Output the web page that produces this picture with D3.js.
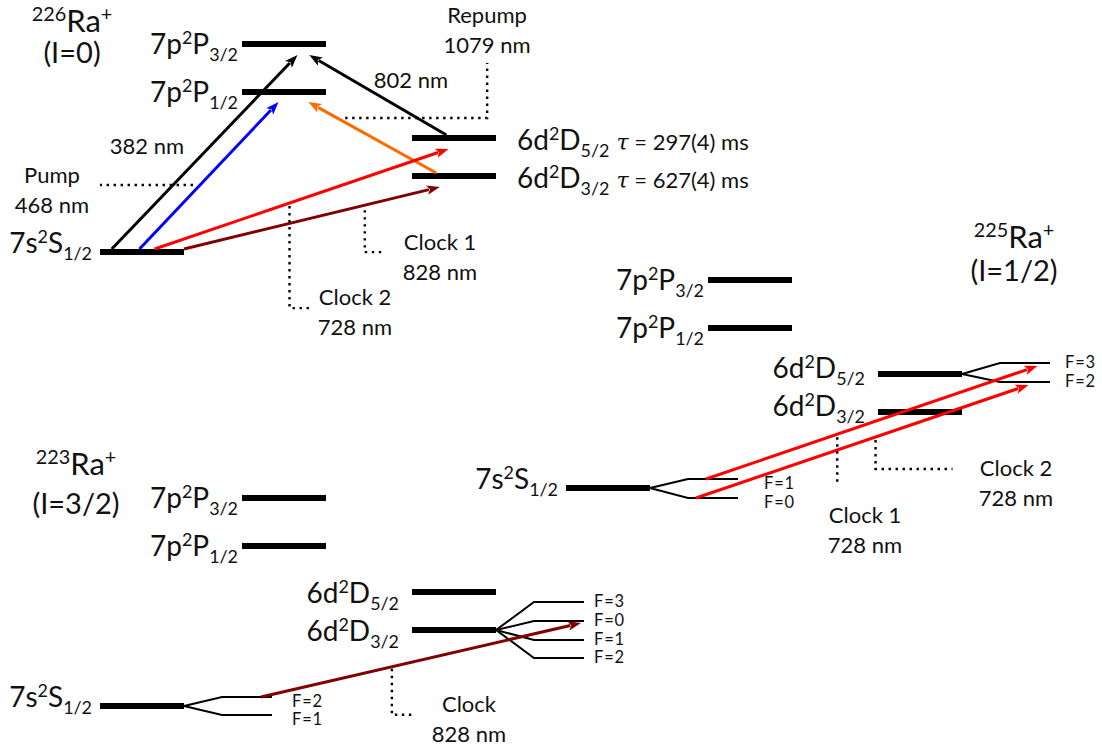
<!DOCTYPE html>
<html>
<head>
  <script src="https://d3js.org/d3.v7.min.js"></script>
  <style>
    body { margin: 0; background: #fff; }
    text { font-family: Lato, "Open Sans", sans-serif; fill: #111; }
    .bar { stroke: #000; stroke-width: 6; }
    .hf { fill: none; stroke: #000; stroke-width: 2; }
    .hf-label { font-size: 16.5px; letter-spacing: 0.8px; }
    .leader { fill: none; stroke: #000; stroke-width: 2.4; stroke-dasharray: 2.4,4.6; }
  </style>
</head>
<body>
  <div id="chart"></div>

  <script>
    // fine-structure levels, schematic energies (diagram is not to scale)
    var levelNames = ["7s2S1/2", "6d2D3/2", "6d2D5/2", "7p2P1/2", "7p2P3/2"];
    var levelConfig = ["7s", "6d", "6d", "7p", "7p"];
    var levelTerm = ["S", "D", "D", "P", "P"];
    var levelJ = ["1/2", "3/2", "5/2", "1/2", "3/2"];
    var levelEnergy = [0, 76, 114, 160, 208];

    var isotopes = ["226", "225", "223"];
    var nuclearSpin = ["0", "1/2", "3/2"];

    // lifetimes of the metastable D states of 226Ra+
    var lifetimeLevel = ["6d2D5/2", "6d2D3/2"];
    var lifetimeMs = ["297(4)", "627(4)"];

    // hyperfine sublevels (schematic shift)
    var hfIsotope = ["225", "225", "225", "225", "223", "223", "223", "223", "223", "223"];
    var hfLevel = ["7s2S1/2", "7s2S1/2", "6d2D5/2", "6d2D5/2", "7s2S1/2", "7s2S1/2", "6d2D3/2", "6d2D3/2", "6d2D3/2", "6d2D3/2"];
    var hfF = ["1", "0", "3", "2", "2", "1", "3", "0", "1", "2"];
    var hfShift = [9, -10, 11, -8, 9, -9, 28, 9, -10, -28];

    // laser transitions
    var trIsotope = ["226", "226", "226", "226", "226", "226", "225", "225", "223"];
    var trFrom = ["7s2S1/2", "7s2S1/2", "6d2D5/2", "6d2D3/2", "7s2S1/2", "7s2S1/2", "7s2S1/2", "7s2S1/2", "7s2S1/2"];
    var trFromF = [null, null, null, null, null, null, "1", "0", "2"];
    var trTo = ["7p2P3/2", "7p2P1/2", "7p2P3/2", "7p2P1/2", "6d2D5/2", "6d2D3/2", "6d2D5/2", "6d2D5/2", "6d2D3/2"];
    var trToF = [null, null, null, null, null, null, "3", "2", "0"];
    var trNm = [382, 468, 802, 1079, 728, 828, 728, 728, 828];

    // annotations
    var noteTitle = ["Pump", "Repump", "Clock 2", "Clock 1", "Clock 1", "Clock 2", "Clock"];
    var noteArrow = [1, 3, 4, 5, 6, 7, 8];
    var plainLabelArrow = [0, 2];

    // ---------- layout ----------
    var width = 1102, height = 751;
    var barW = 84, fanW = 38, hfW = 50;

    var panels = {
      "226": { x: 100, y: 252, dSide: "right", dDy: 12, name: [72, 32, 31] },
      "225": { x: 566, y: 488, dSide: "left", dDy: 4, name: [1014, 248, 33] },
      "223": { x: 100, y: 706, dSide: "left", dDy: 11, name: [76, 475, 39] }
    };
    var colX = d3.scaleOrdinal().domain(["7s", "7p", "6d"]).range([0, 142, 312]);
    var labelGap = { "7s": 8, "7p": 4, "6d": 13 };
    var labelDy = { "7s": 1, "7p": 10 };

    // hyperfine label offsets [dx from line end, dy]
    var hfLabelPos = {
      "225 7s2S1/2": [26, 10], "225 6d2D5/2": [15, 5],
      "223 7s2S1/2": [20, 10], "223 6d2D3/2": [10, 5]
    };

    // arrow anchors: fraction along start line, fraction along end line, gap below target
    var arrowPos = [
      [0.14, 0.66, 11], [0.47, 0.435, 10], [0.41, 0.80, 11], [0.29, 0.79, 10],
      [0.65, 0.435, 11], [1.0, 0.33, 11], [0.36, 0.75, 3], [0.16, 0.57, 3], [0.78, 0.94, 2]
    ];
    // leaders: t along arrow, offset, path moves, text centre and first baseline
    var notePos = [
      { t: 0.435, d: [-7, 0], path: [["h", -93]], text: [52, 183] },
      { t: 0.775, d: [8, 0], path: [["h", 142], ["v", -55]], text: [487, 23] },
      { t: 0.459, d: [0, 3], path: [["v", 102], ["h", 20]], text: [355, 305] },
      { t: 0.707, d: [0, 5], path: [["v", 42], ["h", 20]], text: [440, 250] },
      { t: 0.396, d: [0, 3], path: [["v", 48]], text: [865, 523] },
      { t: 0.54, d: [0, 3], path: [["v", 29], ["h", 77]], text: [1016, 476] },
      { t: 0.409, d: [0, 2], path: [["v", 46], ["h", 21]], text: [469, 712] }
    ];
    var plainLabelPos = [[147, 154], [411, 88]];

    var color = d3.scaleOrdinal()
      .domain([382, 468, 802, 1079, 728, 828])
      .range(["#000000", "#0000ff", "#000000", "#ff6a00", "#ff0000", "#800000"]);

    var svg = d3.select("#chart").append("svg")
      .attr("width", width).attr("height", height);

    var yScale = {};
    isotopes.forEach(function(iso) {
      var p = panels[iso];
      yScale[iso] = d3.scaleLinear().domain([0, 208]).range([p.y, p.y - 208]);
    });

    function lvl(name) { return levelNames.indexOf(name); }
    function barLeft(iso, name) { return panels[iso].x + colX(levelConfig[lvl(name)]); }
    function barY(iso, name) { return yScale[iso](levelEnergy[lvl(name)]); }
    function hfLine(iso, name, F) {
      for (var i = 0; i < hfF.length; i++) {
        if (hfIsotope[i] === iso && hfLevel[i] === name && hfF[i] === F) {
          var x0 = barLeft(iso, name) + barW + fanW;
          return { x0: x0, x1: x0 + hfW, y: yScale[iso](levelEnergy[lvl(name)] + hfShift[i]) };
        }
      }
    }

    // text with super/subscripts; part = [text, "sup"|"sub"|null, dx, family, size]
    function richText(sel, x, y, parts, anchor, size) {
      var t = sel.append("text").attr("x", x).attr("y", y)
        .attr("text-anchor", anchor).style("font-size", size + "px");
      var shift = 0;
      parts.forEach(function(p) {
        var target = p[1] === "sup" ? -0.36 * size : p[1] === "sub" ? 0.25 * size : 0;
        var ts = t.append("tspan").attr("dy", target - shift).text(p[0]);
        if (p[1] === "sup" || p[1] === "sub") ts.style("font-size", (0.64 * size) + "px");
        if (p[2]) ts.attr("dx", p[2]);
        if (p[3]) ts.style("font-family", p[3]).style("font-style", "italic");
        if (p[4]) ts.style("font-size", p[4] + "px");
        shift = target;
      });
      return t;
    }

    // ---------- levels ----------
    isotopes.forEach(function(iso, k) {
      var g = svg.append("g");
      var p = panels[iso];

      g.selectAll(".bar").data(levelNames).enter().append("line")
        .attr("class", "bar")
        .attr("x1", function(d) { return barLeft(iso, d); })
        .attr("x2", function(d) { return barLeft(iso, d) + barW; })
        .attr("y1", function(d) { return barY(iso, d); })
        .attr("y2", function(d) { return barY(iso, d); });

      levelNames.forEach(function(d, i) {
        var cfg = levelConfig[i];
        var right = cfg === "6d" && p.dSide === "right";
        var x = right ? barLeft(iso, d) + barW + 21 : barLeft(iso, d) - labelGap[cfg];
        var dy = cfg === "6d" ? p.dDy : labelDy[cfg];
        var parts = [[cfg], ["2", "sup"], [levelTerm[i]], [levelJ[i], "sub"]];
        var li = lifetimeLevel.indexOf(d);
        if (iso === "226" && li >= 0) {
          parts.push(["\u03c4", null, 7, "DejaVu Serif", 22]);
          parts.push([" = " + lifetimeMs[li] + " ms", null, null, null, 22]);
        }
        richText(g, x, barY(iso, d) + dy, parts, right ? "start" : "end", 28);
      });

      // isotope name
      richText(g, p.name[0], p.name[1], [[iso, "sup"], ["Ra"], ["+", "sup"]], "middle", 31);
      g.append("text").attr("x", p.name[0]).attr("y", p.name[1] + p.name[2])
        .attr("text-anchor", "middle").style("font-size", "29px")
        .text("(I=" + nuclearSpin[k] + ")");
    });

    // ---------- hyperfine fans ----------
    hfF.forEach(function(F, i) {
      var iso = hfIsotope[i], name = hfLevel[i];
      var h = hfLine(iso, name, F);
      var xb = barLeft(iso, name) + barW, yb = barY(iso, name);
      svg.append("path").attr("class", "hf")
        .attr("d", d3.line()([[xb, yb], [h.x0, h.y], [h.x1, h.y]]));
      var lp = hfLabelPos[iso + " " + name];
      svg.append("text").attr("class", "hf-label")
        .attr("x", h.x1 + lp[0]).attr("y", h.y + lp[1])
        .text("F=" + F);
    });

    // ---------- transitions ----------
    var arrows = trNm.map(function(nm, i) {
      var iso = trIsotope[i], a = arrowPos[i];
      var s, e;
      if (trFromF[i]) {
        var hs = hfLine(iso, trFrom[i], trFromF[i]);
        s = [hs.x0 + a[0] * hfW, hs.y];
      } else {
        s = [barLeft(iso, trFrom[i]) + a[0] * barW, barY(iso, trFrom[i]) - 3];
      }
      if (trToF[i]) {
        var he = hfLine(iso, trTo[i], trToF[i]);
        e = [he.x0 + a[1] * hfW, he.y + a[2]];
      } else {
        e = [barLeft(iso, trTo[i]) + a[1] * barW, barY(iso, trTo[i]) + a[2]];
      }
      return { s: s, e: e, c: color(nm) };
    });

    arrows.forEach(function(a) {
      var dx = a.e[0] - a.s[0], dy = a.e[1] - a.s[1];
      var len = Math.sqrt(dx * dx + dy * dy), ux = dx / len, uy = dy / len;
      var hl = 13, hw = 4.8;
      var bx = a.e[0] - ux * hl, by = a.e[1] - uy * hl;
      svg.append("line")
        .attr("x1", a.s[0]).attr("y1", a.s[1])
        .attr("x2", bx + ux * 2).attr("y2", by + uy * 2)
        .attr("stroke", a.c).attr("stroke-width", 3);
      svg.append("path")
        .attr("d", d3.line()([a.e, [bx - uy * hw, by + ux * hw], [bx + ux * 3, by + uy * 3], [bx + uy * hw, by - ux * hw]]) + "Z")
        .attr("fill", a.c);
    });

    // ---------- leaders and notes ----------
    noteTitle.forEach(function(title, i) {
      var a = arrows[noteArrow[i]], np = notePos[i];
      var pt = [a.s[0] + np.t * (a.e[0] - a.s[0]) + np.d[0], a.s[1] + np.t * (a.e[1] - a.s[1]) + np.d[1]];
      var pts = [pt.slice()];
      np.path.forEach(function(m) {
        if (m[0] === "h") pt[0] += m[1]; else pt[1] += m[1];
        pts.push(pt.slice());
      });
      svg.append("path").attr("class", "leader").attr("d", d3.line()(pts));
      svg.append("text").attr("x", np.text[0]).attr("y", np.text[1])
        .attr("text-anchor", "middle").style("font-size", "22px").text(title);
      svg.append("text").attr("x", np.text[0]).attr("y", np.text[1] + 30)
        .attr("text-anchor", "middle").style("font-size", "22px")
        .text(trNm[noteArrow[i]] + " nm");
    });

    plainLabelArrow.forEach(function(ai, i) {
      svg.append("text").attr("x", plainLabelPos[i][0]).attr("y", plainLabelPos[i][1])
        .attr("text-anchor", "middle").style("font-size", "22px")
        .text(trNm[ai] + " nm");
    });
  </script>
</body>
</html>
